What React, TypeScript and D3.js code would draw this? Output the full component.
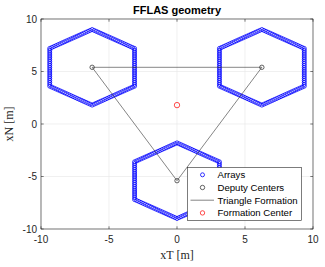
import React from 'react'
import * as d3 from 'd3'

// deputy spacecraft centres (m)
const deputyX = [-6.24, 6.24, 0]
const deputyY = [5.4, 5.4, -5.4]
// formation centre (m)
const centerX = [0]
const centerY = [1.8]
// hexagonal array geometry
const arrayRadius = 3.6
const elementsPerSide = 20
const ticks = [-10, -5, 0, 5, 10]
const legendLabels = ['Arrays', 'Deputy Centers', 'Triangle Formation', 'Formation Center']

const W = 325
const H = 267
const margin = { left: 41, right: 12, top: 19, bottom: 38 }

export default function App() {
  const x = d3.scaleLinear().domain([-10, 10]).range([margin.left, W - margin.right])
  const y = d3.scaleLinear().domain([-10, 10]).range([H - margin.bottom, margin.top])

  // elements sampled along each hexagon edge (pointy-top)
  const arrayPts: [number, number][] = []
  deputyX.forEach((cx, k) => {
    const cy = deputyY[k]
    const verts = d3.range(7).map(i => {
      const a = Math.PI / 2 + (i * Math.PI) / 3
      return [cx + arrayRadius * Math.cos(a), cy + arrayRadius * Math.sin(a)]
    })
    for (let i = 0; i < 6; i++) {
      const [x0, y0] = verts[i]
      const [x1, y1] = verts[i + 1]
      for (let j = 0; j < elementsPerSide; j++) {
        const t = j / elementsPerSide
        arrayPts.push([x0 + (x1 - x0) * t, y0 + (y1 - y0) * t])
      }
    }
  })

  const tri = d3.line<number>().x(i => x(deputyX[i % 3])).y(i => y(deputyY[i % 3]))
  const axisCol = '#262626'
  const sans = "'Liberation Sans', Arial, sans-serif"
  const serif = "'Liberation Serif', 'Times New Roman', serif"
  const x0 = x(-10), x1 = x(10), y0 = y(-10), y1 = y(10)

  const lg = { x: 187.5, y: 167.5, w: 114, h: 53 }

  return (
    <svg width={W} height={H} style={{ position: 'absolute', left: 0, top: 0, background: '#fff' }}>
      <rect x={0} y={0} width={W} height={H} fill="#fff" />
      {/* grid */}
      <g stroke="#e5e5e5" strokeWidth={0.6}>
        {ticks.map(t => <line key={'gx' + t} x1={x(t)} x2={x(t)} y1={y0} y2={y1} />)}
        {ticks.map(t => <line key={'gy' + t} x1={x0} x2={x1} y1={y(t)} y2={y(t)} />)}
      </g>
      {/* arrays */}
      <g fill="none" stroke="#0000ff" strokeWidth={0.8}>
        {arrayPts.map((p, i) => <circle key={i} cx={x(p[0])} cy={y(p[1])} r={2} />)}
      </g>
      {/* triangle formation */}
      <path d={tri([0, 1, 2, 0]) || ''} fill="none" stroke="#333" strokeWidth={0.6} />
      {/* deputy centers */}
      <g fill="none" stroke="#222" strokeWidth={0.7}>
        {deputyX.map((d, i) => <circle key={i} cx={x(d)} cy={y(deputyY[i])} r={2.2} />)}
      </g>
      {/* formation center */}
      {centerX.map((d, i) => (
        <circle key={i} cx={x(d)} cy={y(centerY[i])} r={2.7} fill="none" stroke="#ff0000" strokeWidth={0.7} />
      ))}
      {/* box + ticks */}
      <rect x={x0} y={y1} width={x1 - x0} height={y0 - y1} fill="none" stroke={axisCol} strokeWidth={0.6} />
      <g stroke={axisCol} strokeWidth={0.6}>
        {ticks.map(t => (
          <g key={'t' + t}>
            <line x1={x(t)} x2={x(t)} y1={y0} y2={y0 - 2.7} />
            <line x1={x(t)} x2={x(t)} y1={y1} y2={y1 + 2.7} />
            <line x1={x0} x2={x0 + 2.7} y1={y(t)} y2={y(t)} />
            <line x1={x1} x2={x1 - 2.7} y1={y(t)} y2={y(t)} />
          </g>
        ))}
      </g>
      <g fontFamily={sans} fontSize={10} fill={axisCol}>
        {ticks.map(t => (
          <text key={'xl' + t} x={x(t)} y={y0 + 14} textAnchor="middle">{t}</text>
        ))}
        {ticks.map(t => (
          <text key={'yl' + t} x={x0 - 4} y={y(t) + 3.5} textAnchor="end">{t}</text>
        ))}
      </g>
      <text x={(x0 + x1) / 2} y={259} textAnchor="middle" fontFamily={serif} fontSize={12} fill={axisCol}>xT [m]</text>
      <text transform={`translate(13,${(y0 + y1) / 2}) rotate(-90)`} textAnchor="middle" fontFamily={serif} fontSize={12} fill={axisCol}>xN [m]</text>
      <text x={(x0 + x1) / 2} y={14} textAnchor="middle" fontFamily={sans} fontSize={11} fontWeight="bold" fill="#000">FFLAS geometry</text>
      {/* legend */}
      <rect x={lg.x} y={lg.y} width={lg.w} height={lg.h} fill="#fff" stroke={axisCol} strokeWidth={0.6} />
      {legendLabels.map((lab, i) => {
        const cy = lg.y + 7.3 + i * 12.7
        return (
          <g key={lab}>
            {i === 0 && <circle cx={202.5} cy={cy} r={2} fill="none" stroke="#0000ff" strokeWidth={0.8} />}
            {i === 1 && <circle cx={202.5} cy={cy} r={2.2} fill="none" stroke="#222" strokeWidth={0.7} />}
            {i === 2 && <line x1={190.5} x2={214} y1={cy} y2={cy} stroke="#333" strokeWidth={0.6} />}
            {i === 3 && <circle cx={202.5} cy={cy} r={2.2} fill="none" stroke="#ff0000" strokeWidth={0.7} />}
            <text x={217.5} y={cy + 3.4} fontFamily={sans} fontSize={9.6} fill="#000">{lab}</text>
          </g>
        )
      })}
    </svg>
  )
}
